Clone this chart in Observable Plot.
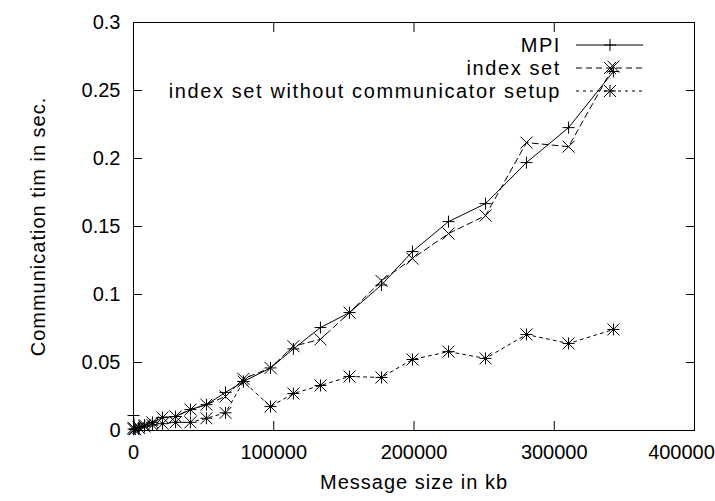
<!DOCTYPE html>
<html><head><meta charset="utf-8">
<script src="https://cdn.jsdelivr.net/npm/d3@7"></script>
<script src="https://cdn.jsdelivr.net/npm/@observablehq/plot@0.6"></script>
<style>html,body{margin:0;padding:0;background:#fff}</style>
</head><body><div id="chart"></div>
<script>
// ---- data ----
const sizes    = [0, 1100, 3800, 7900, 13500, 20700, 30000, 40600, 52000, 65600, 78400, 97700, 114000, 133300, 154000, 176800, 198900, 224600, 251000, 280200, 310200, 342200];
const mpi      = [0.011, 0.001, 0.002, 0.004, 0.006, 0.0096, 0.0103, 0.0154, 0.019, 0.028, 0.036, 0.046, 0.060, 0.0757, 0.0867, 0.107, 0.1316, 0.1536, 0.1668, 0.197, 0.2227, 0.264];
const indexSet = [0.002, 0.001, 0.002, 0.004, 0.006, 0.0096, 0.0103, 0.0154, 0.019, 0.025, 0.038, 0.046, 0.062, 0.067, 0.0867, 0.110, 0.1264, 0.1448, 0.158, 0.2117, 0.2087, 0.2675];
const noSetup  = [0.001, 0.001, 0.002, 0.003, 0.004, 0.005, 0.006, 0.006, 0.009, 0.013, 0.036, 0.0176, 0.0272, 0.0331, 0.0397, 0.039, 0.0522, 0.058, 0.053, 0.0706, 0.064, 0.0743];
const seriesNames = ["MPI", "index set", "index set without communicator setup"];
const xTicks = [0, 100000, 200000, 300000, 400000];
const yTicks = [0, 0.05, 0.1, 0.15, 0.2, 0.25, 0.3];
const xLabel = "Message size in kb";
const yLabel = "Communication tim in sec.";

// ---- styles ----
const HS = 6; // marker half size
const gpPlus  = {draw(c){c.moveTo(-HS,0);c.lineTo(HS,0);c.moveTo(0,-HS);c.lineTo(0,HS);}};
const gpTimes = {draw(c){c.moveTo(-HS,-HS);c.lineTo(HS,HS);c.moveTo(-HS,HS);c.lineTo(HS,-HS);}};
const gpStar  = {draw(c){gpPlus.draw(c);gpTimes.draw(c);}};
const styles = [
  {symbol: gpPlus,  dash: null},
  {symbol: gpTimes, dash: "6,4"},
  {symbol: gpStar,  dash: "3,4"}
];
const seriesValues = [mpi, indexSet, noSetup];
const tables = seriesValues.map((vals, i) => sizes.map((s, j) => ({size: s, time: vals[j], series: seriesNames[i]})));

const FONT = "'Liberation Sans', Arial, Helvetica, sans-serif";
const FS = 20;
const TICK = 9;
const lastX = xTicks[xTicks.length - 1];

const marks = [Plot.frame({stroke: "black", strokeWidth: 1})];
// inward ticks on all four sides
marks.push(
  Plot.axisX({ticks: xTicks, anchor: "bottom", tickSize: -TICK, tickFormat: () => "", label: null}),
  Plot.axisX({ticks: xTicks, anchor: "top", tickSize: -TICK, tickFormat: () => "", label: null}),
  Plot.axisY({ticks: yTicks, anchor: "left", tickSize: -TICK, tickFormat: () => "", label: null}),
  Plot.axisY({ticks: yTicks, anchor: "right", tickSize: -TICK, tickFormat: () => "", label: null}),
  Plot.axisX({ticks: xTicks.filter(d => d !== lastX), anchor: "bottom", tickSize: 0, tickPadding: 14, tickFormat: d => String(d), label: null, fontSize: FS}),
  Plot.axisX({ticks: [lastX], anchor: "bottom", tickSize: 0, tickPadding: 14, dx: -13, tickFormat: d => String(d), label: null, fontSize: FS}),
  Plot.axisY({ticks: yTicks, anchor: "left", tickSize: 0, tickPadding: 13, tickFormat: d => String(d), label: null, fontSize: FS}),
  Plot.text([xLabel], {frameAnchor: "bottom", dy: 58, textAnchor: "middle", fontSize: FS, fill: "black"}),
  Plot.text([yLabel], {frameAnchor: "left", dx: -95, rotate: -90, textAnchor: "middle", fontSize: FS, fill: "black"})
);
tables.forEach((t, i) => {
  marks.push(Plot.line(t, {x: "size", y: "time", stroke: "black", strokeWidth: 1, strokeDasharray: styles[i].dash}));
  marks.push(Plot.dot(t, {x: "size", y: "time", symbol: styles[i].symbol, stroke: "black", fill: "none", strokeWidth: 1}));
});

const chart = Plot.plot({
  width: 715, height: 501,
  marginLeft: 133, marginRight: 21, marginTop: 22, marginBottom: 71,
  style: {fontFamily: FONT, fontSize: FS + "px", background: "white", color: "black"},
  x: {domain: [0, 400000]},
  y: {domain: [0, 0.3]},
  marks
});
document.getElementById("chart").appendChild(chart);

// letter spacing for axis titles (wider glyph spacing as in reference)
d3.select(chart).selectAll("text").filter(function(){ return this.textContent === xLabel || this.textContent === yLabel; })
  .style("letter-spacing", "1px");

// ---- legend (top-right, inside frame, gnuplot style) ----
const svg = d3.select(chart);
const lg = svg.append("g").attr("font-family", FONT).attr("font-size", FS).style("letter-spacing", "1.6px");
const rowY = [45, 68, 91];
seriesNames.forEach((name, i) => {
  const y = rowY[i];
  lg.append("text").attr("x", 561).attr("y", y).attr("dy", "0.35em").attr("text-anchor", "end").attr("fill", "black").text(name);
  lg.append("line").attr("x1", 576).attr("x2", 643).attr("y1", y).attr("y2", y)
    .attr("stroke", "black").attr("stroke-width", 1).attr("stroke-dasharray", styles[i].dash);
  const p = d3.path(); styles[i].symbol.draw(p);
  lg.append("path").attr("d", p.toString()).attr("transform", `translate(610,${y})`).attr("stroke", "black").attr("fill", "none");
});
</script>
</body></html>
